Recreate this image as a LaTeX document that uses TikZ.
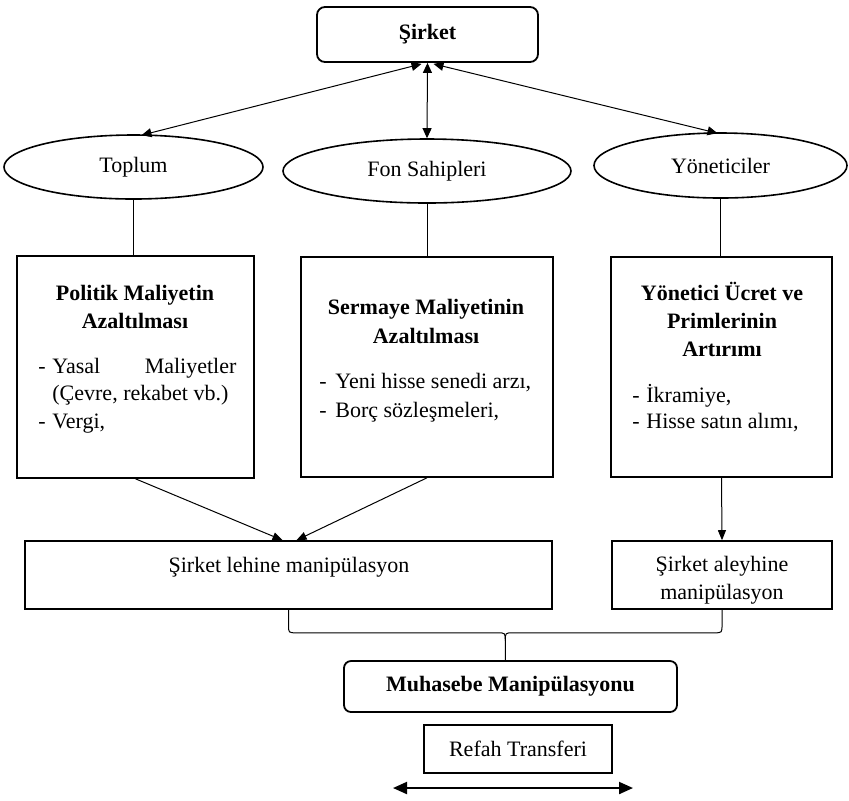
\documentclass[tikz,border=0pt]{standalone}
\usepackage{fontspec}
\setmainfont{Liberation Serif}
\usetikzlibrary{shapes.geometric,arrows.meta,calc}
\begin{document}
\begin{tikzpicture}[x=0.5pt,y=-0.5pt,
  font=\fontsize{11}{13.5}\selectfont,
  box/.style={draw, line width=0.8pt, inner sep=0pt},
  rbox/.style={draw, line width=0.9pt, rounded corners=4pt, inner sep=0pt},
  ell/.style={ellipse, draw, line width=0.8pt, inner sep=0pt},
  lbl/.style={inner sep=0pt, anchor=base},
  item/.style={inner sep=0pt, anchor=base west},
  conn/.style={line width=0.5pt},
  dbl/.style={conn, {Triangle[length=5pt,width=4.5pt]}-{Triangle[length=5pt,width=4.5pt]}},
  arr/.style={conn, -{Triangle[length=5pt,width=4pt]}},
  wide/.style={line width=1pt, {Triangle[length=7pt,width=6pt]}-{Triangle[length=7pt,width=6pt]}}
]
\useasboundingbox (0,0) rectangle (849,800);

% top
\node[rbox, minimum width=110.5pt, minimum height=27.5pt] (sirket) at (427.5,34.5) {\bfseries Şirket};

% ellipses
\node[ell, minimum width=129.5pt, minimum height=32pt] (top) at (133.5,167) {Toplum};
\node[ell, minimum width=144pt, minimum height=32pt] (fon) at (427,171) {Fon Sahipleri};
\node[ell, minimum width=126.5pt, minimum height=32.5pt] (yon) at (720.5,165.5) {Yöneticiler};

% three boxes
\node[box, minimum width=118.5pt, minimum height=111pt] (b1) at (135.5,367) {};
\node[box, minimum width=126pt, minimum height=110pt] (b2) at (427,367) {};
\node[box, minimum width=110.5pt, minimum height=110pt] (b3) at (721.5,367) {};

% box 1 text
\node[lbl] (t1a) at (135,300) {\bfseries Politik Maliyetin};
\node[lbl] (t1b) at (135,328) {\bfseries Azaltılması};
\node[item] (t1c) at (38,373) {\makebox[7pt][l]{-}\hbox to 92pt{Yasal\hfill Maliyetler}};
\node[item] (t1d) at (52,400) {(Çevre, rekabet vb.)};
\node[item] (t1e) at (38,428) {\makebox[7pt][l]{-}Vergi,};

% box 2 text
\node[lbl] (t2a) at (426,314) {\bfseries Sermaye Maliyetinin};
\node[lbl] (t2b) at (426,343) {\bfseries Azaltılması};
\node[item] (t2c) at (319,388) {\makebox[8pt][l]{-}Yeni hisse senedi arzı,};
\node[item] (t2d) at (319,417) {\makebox[8pt][l]{-}Borç sözleşmeleri,};

% box 3 text
\node[lbl] (t3a) at (722,300) {\bfseries Yönetici Ücret ve};
\node[lbl] (t3b) at (722,328) {\bfseries Primlerinin};
\node[lbl] (t3c) at (722,356) {\bfseries Artırımı};
\node[item] (t3d) at (632,402) {\makebox[7pt][l]{-}İkramiye,};
\node[item] (t3e) at (632,428) {\makebox[7pt][l]{-}Hisse satın alımı,};

% manipulation boxes
\node[box, minimum width=263.5pt, minimum height=34pt] (leh) at (288.5,575) {};
\node[lbl] (lehtxt) at (289,572) {Şirket lehine manipülasyon};
\node[box, minimum width=110pt, minimum height=34pt] (aley) at (722,575) {};
\node[lbl] (aleya) at (722,571) {Şirket aleyhine};
\node[lbl] (aleyb) at (722,599) {manipülasyon};

% bottom boxes
\node[rbox, rounded corners=3.5pt, minimum width=166.5pt, minimum height=25.5pt] (muh) at (510.5,686.5) {\bfseries Muhasebe Manipülasyonu};
\node[box, minimum width=94pt, minimum height=24pt] (ref) at (518,749) {Refah Transferi};

% connectors top
\draw[dbl] ($(sirket.south)+(-6,1)$) -- ($(top.north)+(8,1)$);
\draw[dbl] (sirket.south) -- (fon.north);
\draw[dbl] ($(sirket.south)+(6,1)$) -- ($(yon.north)+(-3,1)$);

% vertical lines
\draw[conn] (top.south) -- (top.south |- b1.north);
\draw[conn] (fon.south) -- (fon.south |- b2.north);
\draw[conn] (yon.south) -- ($(yon.south |- b3.north)$);

% converging arrows
\draw[arr] (b1.south) -- ($(leh.north)+(-6,0)$);
\draw[arr] (b2.south) -- ($(leh.north)+(8,0)$);
\draw[arr] (b3.south) -- (aley.north);

% brace
\coordinate (bm) at ($(leh.south)!0.5!(aley.south)+(0,23)$);
\draw[conn] (leh.south) -- ($(leh.south)+(0,15)$)
  .. controls ($(leh.south)+(0,23)$) .. ($(leh.south)+(8,23)$)
  -- ($(bm)+(-8,0)$) .. controls (bm) .. ($(bm)+(0,8)$)
  -- (bm |- muh.north);
\draw[conn] (aley.south) -- ($(aley.south)+(0,15)$)
  .. controls ($(aley.south)+(0,23)$) .. ($(aley.south)+(-8,23)$)
  -- ($(bm)+(8,0)$) .. controls (bm) .. ($(bm)+(0,8)$);

% welfare transfer arrow
\coordinate (ra) at (393,788);
\coordinate (rb) at (633,788);
\draw[wide] (ra) -- (rb);
\end{tikzpicture}
\end{document}
